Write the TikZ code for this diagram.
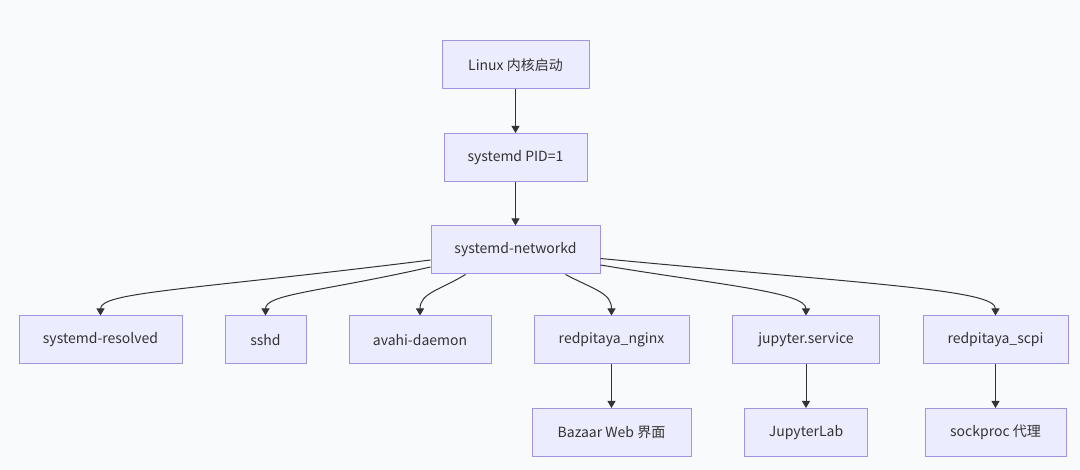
\documentclass[tikz,border=0pt]{standalone}
\usepackage{fontspec}
\setmainfont{Noto Sans CJK SC}
\usetikzlibrary{arrows.meta, positioning}
\definecolor{boxfill}{HTML}{ECECFF}
\definecolor{boxline}{HTML}{A393E3}
\definecolor{linkgray}{HTML}{333333}
\definecolor{canvas}{HTML}{F9FAFC}

\begin{document}
\begin{tikzpicture}[
    x=1pt, y=-1pt,
    node distance=43.5pt,
    service/.style={rectangle, draw=boxline, fill=boxfill, line width=1pt, minimum height=48pt, inner sep=0pt, align=center, text=linkgray, font=\fontsize{14}{17}\selectfont},
    arrow/.style={-{Triangle[length=7pt, width=8pt]}, line width=1pt, draw=linkgray}
]
\fill [canvas] (0,0) rectangle (1080,470);
\useasboundingbox (0,0) rectangle (1080,470);
\node (kernel) [service, minimum width=147pt] at (515.5,65) {Linux 内核启动};
\node (systemd) [service, minimum width=143pt, below=of kernel] {systemd PID=1};
\node (networkd) [service, minimum width=169pt, below=of systemd] {systemd-networkd};
\node (resolved) [service, minimum width=163pt] at (100.5,340) {systemd-resolved};
\node (sshd) [service, minimum width=81pt] at (265.5,340) {sshd};
\node (avahi) [service, minimum width=142pt] at (420,340) {avahi-daemon};
\node (nginx) [service, minimum width=155pt] at (611.5,340) {redpitaya\_nginx};
\node (jupyter) [service, minimum width=147pt] at (806,340) {jupyter.service};
\node (scpi) [service, minimum width=145pt] at (995.5,340) {redpitaya\_scpi};
\node (bazaar) [service, minimum width=159pt, below=of nginx] {Bazaar Web 界面};
\node (jlab) [service, minimum width=123pt, below=of jupyter] {JupyterLab};
\node (sockproc) [service, minimum width=141pt, below=of scpi] {sockproc 代理};
\draw [arrow] (kernel) -- (systemd);
\draw [arrow] (systemd) -- (networkd);
\draw [arrow] ([yshift=-10pt]networkd.west) .. controls (190,290) and (100.5,292) .. (resolved.north);
\draw [arrow] ([yshift=-17pt]networkd.west) .. controls (320,292) and (265.5,294) .. (sshd.north);
\draw [arrow] ([xshift=-50pt]networkd.south) .. controls (440,290) and (420,293) .. (avahi.north);
\draw [arrow] ([xshift=50pt]networkd.south) .. controls (595,290) and (611.5,293) .. (nginx.north);
\draw [arrow] ([yshift=-15pt]networkd.east) .. controls (720,285) and (806,292) .. (jupyter.north);
\draw [arrow] ([yshift=-8.5pt]networkd.east) .. controls (880,285) and (995.5,290) .. (scpi.north);
\draw [arrow] (nginx) -- (bazaar);
\draw [arrow] (jupyter) -- (jlab);
\draw [arrow] (scpi) -- (sockproc);
\end{tikzpicture}
\end{document}
